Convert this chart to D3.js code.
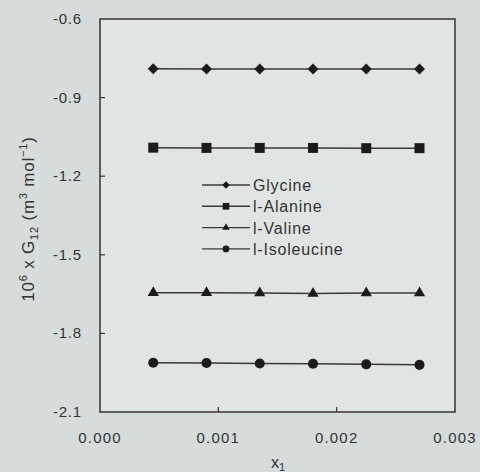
<!DOCTYPE html>
<html>
<head>
<meta charset="utf-8">
<script src="https://cdn.jsdelivr.net/npm/d3@7"></script>
<style>
  body { margin: 0; background: #d6dcdb; }
  text { font-family: "Liberation Sans", Arial, sans-serif; fill: #333; }
</style>
</head>
<body>
<svg id="chart" width="480" height="472"></svg>
<script>
// mole fraction values
const xValues = [0.00045, 0.0009, 0.00135, 0.0018, 0.00225, 0.0027];
const glycine = [-0.790, -0.791, -0.791, -0.791, -0.791, -0.791];
const alanine = [-1.091, -1.092, -1.092, -1.092, -1.093, -1.093];
const valine = [-1.645, -1.645, -1.646, -1.648, -1.646, -1.646];
const isoleucine = [-1.912, -1.913, -1.915, -1.916, -1.918, -1.920];
const seriesNames = ['Glycine', 'l-Alanine', 'l-Valine', 'l-Isoleucine'];
const xTicks = [0.000, 0.001, 0.002, 0.003];
const yTicks = [-0.6, -0.9, -1.2, -1.5, -1.8, -2.1];

const svg = d3.select('#chart');
const mLeft = 100, mRight = 455, mTop = 19, mBottom = 412;

const x = d3.scaleLinear().domain([0, 0.003]).range([mLeft, mRight]);
const y = d3.scaleLinear().domain([-2.1, -0.6]).range([mBottom, mTop]);

// plot area
svg.append('rect')
  .attr('x', mLeft).attr('y', mTop)
  .attr('width', mRight - mLeft).attr('height', mBottom - mTop)
  .attr('fill', '#e0e5e4')
  .attr('stroke', '#3b3030').attr('stroke-width', 1.5);

// inward ticks
svg.selectAll('.yt').data(yTicks.slice(1, -1)).enter().append('line')
  .attr('x1', mLeft).attr('x2', mLeft + 5)
  .attr('y1', d => y(d)).attr('y2', d => y(d))
  .attr('stroke', '#3b3030').attr('stroke-width', 1.2);
svg.selectAll('.xt').data(xTicks.slice(1, -1)).enter().append('line')
  .attr('x1', d => x(d)).attr('x2', d => x(d))
  .attr('y1', mBottom).attr('y2', mBottom - 5)
  .attr('stroke', '#3b3030').attr('stroke-width', 1.2);

// tick labels
svg.selectAll('.yl').data(yTicks).enter().append('text')
  .attr('x', 82).attr('y', d => y(d) + 5)
  .attr('text-anchor', 'end').attr('font-size', 15).attr('letter-spacing', 0.8)
  .text(d => d.toFixed(1));
svg.selectAll('.xl').data(xTicks).enter().append('text')
  .attr('x', d => x(d)).attr('y', 443)
  .attr('text-anchor', 'middle').attr('font-size', 15).attr('letter-spacing', 1.2)
  .text(d => d.toFixed(3));

// axis titles
svg.append('text')
  .attr('x', 278).attr('y', 468)
  .attr('text-anchor', 'middle').attr('font-size', 16)
  .html('<tspan>x</tspan><tspan font-size="11" dy="3">1</tspan>');
svg.append('text')
  .attr('transform', 'translate(34,219) rotate(-90)')
  .attr('text-anchor', 'middle').attr('font-size', 17).attr('letter-spacing', 0.8)
  .html('10<tspan font-size="11" dy="-7">6</tspan><tspan dy="7"> x G</tspan><tspan font-size="11" dy="4">12</tspan><tspan dy="-4"> (m</tspan><tspan font-size="11" dy="-7">3</tspan><tspan dy="7"> mol</tspan><tspan font-size="11" dy="-7">−1</tspan><tspan dy="7">)</tspan>');

const series = [
  { name: seriesNames[0], values: glycine, symbol: d3.symbolSquare, size: 60, rot: 45 },
  { name: seriesNames[1], values: alanine, symbol: d3.symbolSquare, size: 100, rot: 0 },
  { name: seriesNames[2], values: valine, symbol: d3.symbolTriangle, size: 55, rot: 0 },
  { name: seriesNames[3], values: isoleucine, symbol: d3.symbolCircle, size: 80, rot: 0 }
];

const line = d3.line().x(d => x(d[0])).y(d => y(d[1]));

series.forEach(s => {
  const pts = xValues.map((xv, i) => [xv, s.values[i]]);
  svg.append('path')
    .attr('d', line(pts))
    .attr('fill', 'none').attr('stroke', '#3d3838').attr('stroke-width', 1.5);
  svg.selectAll(null).data(pts).enter().append('path')
    .attr('d', d3.symbol().type(s.symbol).size(s.size))
    .attr('transform', d => `translate(${x(d[0])},${y(d[1])}) rotate(${s.rot})`)
    .attr('fill', '#1c1a1c');
});

// legend
const legend = svg.append('g').attr('transform', 'translate(202,185)');
series.forEach((s, i) => {
  const g = legend.append('g').attr('transform', `translate(0,${i * 21.3})`);
  g.append('line').attr('x1', 0).attr('x2', 48).attr('y1', 0).attr('y2', 0)
    .attr('stroke', '#3d3838').attr('stroke-width', 1.4);
  g.append('path')
    .attr('d', d3.symbol().type(s.symbol).size(s.size * 0.45))
    .attr('transform', `translate(24,0) rotate(${s.rot})`)
    .attr('fill', '#1c1a1c');
  g.append('text').attr('x', 51).attr('y', 6).attr('font-size', 16)
    .attr('letter-spacing', 0.8).text(s.name);
});
</script>
</body>
</html>
